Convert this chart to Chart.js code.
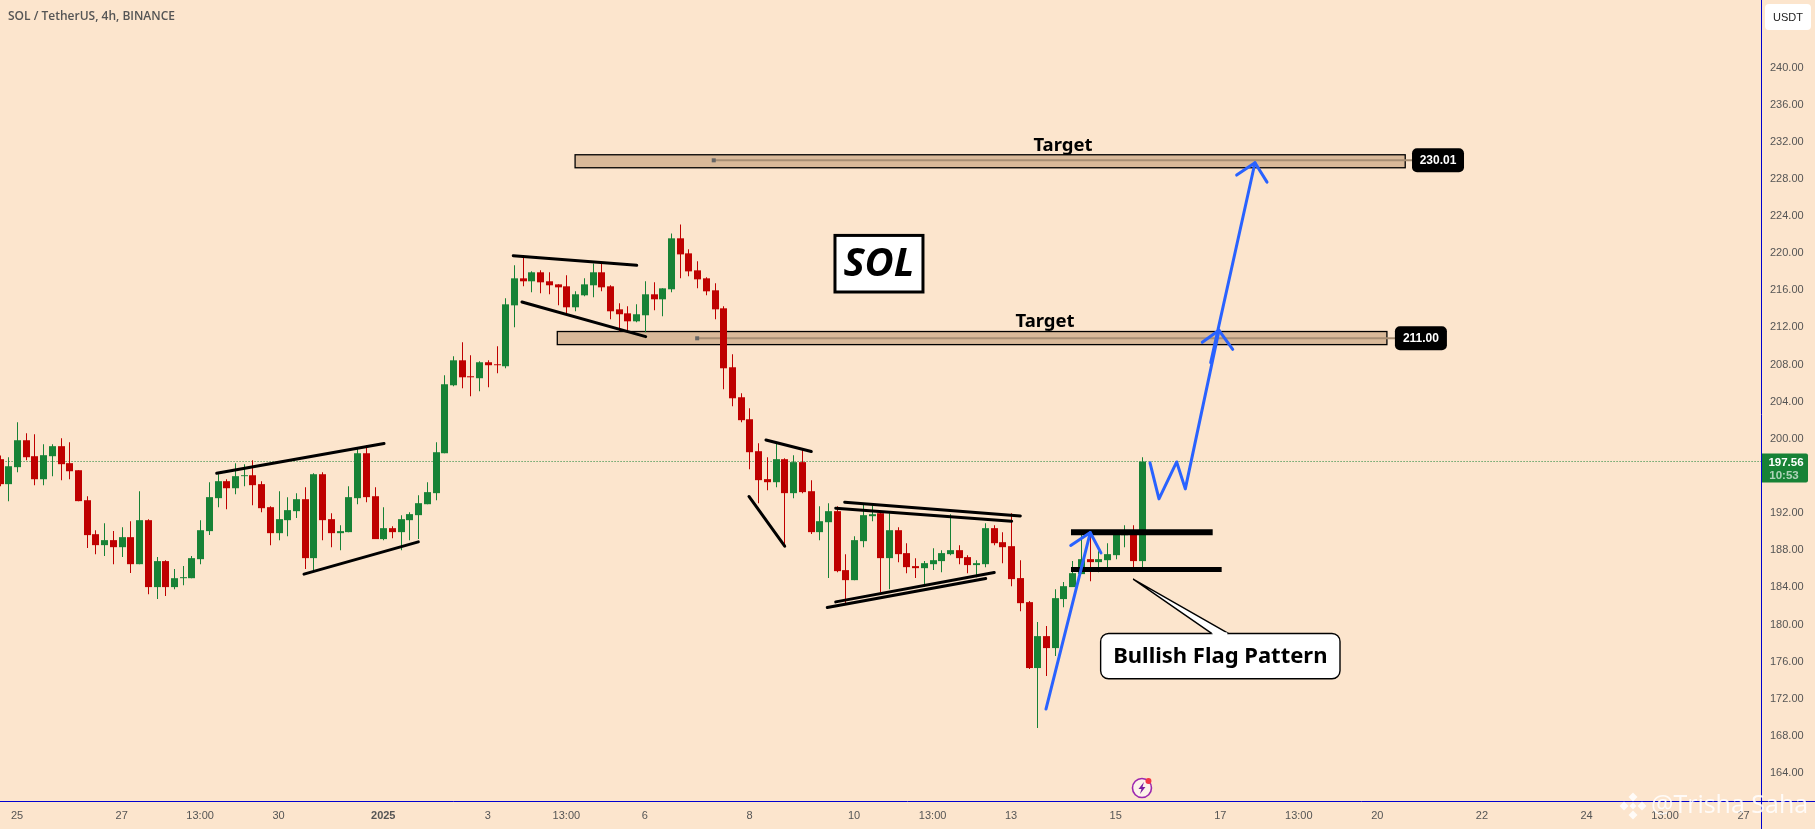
<!DOCTYPE html>
<html lang="en">
<head>
    <meta charset="UTF-8">
    <title>SOL / TetherUS, 4h, BINANCE</title>
    <script src="https://cdn.jsdelivr.net/npm/chart.js"></script>
    <style>
        html, body { margin: 0; padding: 0; background: #fce5cd; overflow: hidden; }
        canvas { display: block; }
    </style>
</head>
<body>
    <canvas id="solChart" width="1815" height="829"></canvas>

    <script>
        // candles
        const opens = [
            197.81, 195.12, 196.95, 199.85, 198.13, 195.65, 198.13, 199.21, 197.38, 196.62,
            193.39, 189.73, 188.55, 189.09, 188.33, 189.41, 186.50, 191.24, 184.03, 186.83,
            184.03, 184.99, 184.99, 187.04, 190.06, 193.61, 195.44, 194.68, 195.98, 196.08,
            195.12, 192.64, 189.84, 191.24, 192.21, 193.50, 187.15, 196.19, 191.35, 189.84,
            189.95, 193.61, 198.45, 193.82, 189.20, 190.38, 189.95, 191.24, 191.78, 192.96,
            194.15, 198.45, 205.77, 208.46, 206.74, 206.53, 208.25, 208.03, 207.82, 214.38,
            217.29, 216.97, 217.94, 216.97, 216.64, 216.43, 214.17, 215.46, 216.54, 217.94,
            216.43, 213.95, 213.52, 212.66, 213.31, 215.57, 215.03, 216.11, 221.60, 219.98,
            218.15, 217.29, 216.00, 214.06, 207.71, 204.48, 202.11, 198.67, 195.66, 195.33,
            197.81, 194.15, 197.49, 194.36, 189.95, 191.02, 192.21, 185.86, 184.78, 188.98,
            191.67, 191.99, 187.15, 190.16, 187.69, 186.29, 186.07, 186.50, 186.83, 187.58,
            188.01, 187.26, 186.40, 186.50, 190.38, 188.87, 188.44, 185.00, 182.41, 175.31,
            178.75, 177.46, 182.74, 184.03, 185.43, 187.04, 186.72, 186.93, 187.47, 189.62,
            189.95, 186.83
        ];
        const highs = [
            198.20, 198.02, 201.79, 200.61, 200.50, 199.42, 199.42, 200.07, 199.64, 196.62,
            193.82, 190.16, 190.92, 190.06, 190.49, 191.13, 194.36, 191.35, 187.26, 186.93,
            185.97, 186.29, 187.37, 191.24, 195.33, 196.19, 195.65, 197.38, 197.27, 197.70,
            195.44, 192.75, 194.36, 193.72, 194.15, 194.79, 196.30, 196.41, 191.99, 190.70,
            194.90, 198.99, 199.31, 194.79, 192.64, 190.59, 191.78, 192.10, 193.93, 195.33,
            199.64, 206.85, 208.89, 210.40, 209.00, 208.36, 208.46, 209.97, 215.14, 218.69,
            219.77, 218.04, 218.15, 217.94, 216.64, 217.61, 215.89, 217.29, 218.90, 219.01,
            216.54, 214.60, 214.28, 214.49, 216.97, 216.86, 216.21, 222.13, 223.10, 220.41,
            219.12, 217.40, 216.75, 214.28, 209.11, 204.91, 203.30, 199.53, 198.02, 199.53,
            197.92, 198.24, 198.99, 195.55, 192.75, 193.07, 192.75, 187.58, 189.52, 192.96,
            192.85, 192.10, 191.99, 190.49, 188.76, 187.15, 186.83, 188.22, 188.01, 191.88,
            188.55, 187.47, 186.93, 190.91, 190.70, 189.95, 191.99, 186.93, 182.52, 180.26,
            179.83, 183.81, 184.57, 186.83, 190.05, 190.05, 187.90, 188.76, 189.73, 190.70,
            190.70, 198.02
        ];
        const lows = [
            194.90, 193.29, 196.41, 197.70, 195.01, 195.01, 195.98, 195.55, 195.65, 193.29,
            188.23, 187.58, 187.37, 186.50, 187.26, 185.54, 186.50, 183.27, 182.74, 183.06,
            183.81, 184.24, 184.99, 186.50, 189.63, 192.64, 192.42, 194.04, 194.90, 192.86,
            192.10, 188.55, 189.09, 189.52, 191.46, 185.97, 185.86, 189.09, 188.33, 188.01,
            189.95, 192.96, 193.18, 189.20, 189.09, 189.30, 188.01, 189.09, 189.20, 192.96,
            193.39, 198.45, 205.67, 205.45, 204.59, 205.13, 205.56, 207.06, 207.60, 212.02,
            216.43, 215.78, 215.68, 215.57, 214.38, 213.52, 213.74, 215.35, 215.25, 215.89,
            212.88, 211.59, 211.48, 212.55, 211.48, 213.85, 213.20, 215.78, 217.29, 217.51,
            216.21, 215.46, 212.88, 205.34, 203.51, 201.79, 196.73, 193.07, 194.47, 194.79,
            188.37, 193.61, 194.15, 189.74, 189.09, 185.00, 185.64, 182.09, 184.78, 188.33,
            191.13, 183.49, 183.81, 186.72, 185.53, 185.00, 184.03, 185.86, 185.64, 187.47,
            186.50, 185.53, 185.10, 186.18, 188.55, 186.61, 184.13, 181.44, 175.20, 168.85,
            174.45, 176.60, 181.87, 184.03, 185.43, 184.67, 185.64, 185.75, 187.04, 188.33,
            185.86, 185.96
        ];
        const closes = [
            195.12, 197.05, 199.85, 198.02, 195.65, 198.24, 199.21, 197.27, 196.51, 193.29,
            189.63, 188.55, 189.09, 188.33, 189.41, 186.50, 191.24, 184.03, 186.83, 184.03,
            184.99, 185.10, 187.15, 190.16, 193.72, 195.44, 194.68, 195.98, 196.08, 195.01,
            192.53, 189.84, 191.35, 192.32, 193.50, 187.15, 196.19, 191.24, 189.84, 190.06,
            193.72, 198.45, 193.72, 189.20, 190.38, 189.95, 191.35, 191.89, 193.07, 194.26,
            198.56, 205.88, 208.46, 206.63, 206.63, 208.25, 207.93, 207.93, 214.49, 217.29,
            216.97, 217.94, 216.86, 216.54, 216.32, 214.17, 215.57, 216.64, 217.94, 216.32,
            213.74, 213.42, 212.66, 213.42, 215.57, 215.03, 216.21, 221.60, 219.87, 218.04,
            217.18, 215.89, 213.95, 207.60, 204.37, 202.01, 198.56, 195.55, 195.33, 197.81,
            194.15, 197.49, 194.26, 189.95, 191.13, 192.21, 185.75, 184.78, 189.09, 191.78,
            191.88, 187.15, 190.16, 187.58, 186.18, 186.07, 186.61, 186.93, 187.69, 188.01,
            187.15, 186.40, 186.61, 190.38, 188.76, 188.33, 184.89, 182.30, 175.31, 178.75,
            177.46, 182.84, 184.13, 185.53, 187.04, 186.72, 187.04, 187.58, 189.73, 189.95,
            186.83, 197.56
        ];

        // axes
        const priceTicks = [164, 168, 172, 176, 180, 184, 188, 192, 196, 200, 204, 208, 212, 216, 220, 224, 228, 232, 236, 240];
        const timeTickSlots = [2, 14, 23, 32, 44, 56, 65, 74, 86, 98, 107, 116, 128, 140, 149, 158, 170, 182, 191, 200];
        const timeTickLabels = ['25', '27', '13:00', '30', '2025', '3', '13:00', '6', '8', '10', '13:00', '13', '15', '17', '13:00', '20', '22', '24', '13:00', '27'];
        const lastPrice = 197.56;

        // drawings, in [candle slot, price]
        const blackLines = [
            [[24.90, 196.30], [44.09, 199.49]],
            [[34.91, 185.43], [48.02, 188.90]],
            [[58.91, 219.73], [73.07, 218.69]],
            [[59.91, 214.74], [74.10, 211.01]],
            [[87.89, 199.88], [93.09, 198.63]],
            [[85.94, 193.79], [90.04, 188.44]],
            [[96.92, 193.18], [117.06, 191.70]],
            [[95.89, 192.53], [116.07, 191.13]],
            [[95.89, 182.44], [114.07, 185.61]],
            [[94.92, 181.84], [113.09, 184.96]]
        ];
        const flagLines = [
            [[122.87, 189.95], [139.12, 189.95]],
            [[122.87, 185.93], [140.15, 185.93]]
        ];
        const blueLines = [
            [[120.00, 170.89], [125.08, 189.91]],
            [[122.84, 188.52], [125.08, 189.91], [126.31, 187.72]],
            [[131.93, 197.41], [132.96, 193.53], [134.99, 197.51], [135.98, 194.61], [139.84, 211.69]],
            [[137.93, 210.40], [139.84, 211.69], [141.42, 209.64]],
            [[138.89, 208.21], [143.97, 229.74]],
            [[141.87, 228.41], [143.97, 229.74], [145.35, 227.65]]
        ];

        // target zones
        const zoneSlots = [[63.96, 159.10], [66.00, 161.20]];
        const zonePrices = [[211.56, 210.15], [230.60, 229.20]];
        const zoneMids = [210.83, 230.00];
        const zoneAnchors = [80.00, 81.90];
        const zoneLabelSlots = [163.00, 164.96];
        const zoneLabels = ['211.00', '230.01'];
        const targetTextAt = [[119.89, 212.01], [121.95, 230.96]];

        const solBox = [95.69, 106.01, 222.02, 215.71];
        const calloutBox = [126.27, 153.72, 179.04, 174.16];
        const calloutTip = [130.00, 184.89];
        const calloutBase = [139.00, 140.91];
        const eventIconAt = [131.01, 162.39];

        const slots = opens.map((_, i) => i);
        const UP = '#178236';
        const DOWN = '#bf0000';
        const candleColors = opens.map((o, i) => closes[i] >= o ? UP : DOWN);

        function lineSet(points, color, width, order, dash) {
            return {
                type: 'line',
                data: points.map(p => ({ x: p[0], y: p[1] })),
                borderColor: color,
                borderWidth: width,
                borderDash: dash || [],
                borderCapStyle: dash ? 'butt' : 'round',
                borderJoinStyle: 'round',
                pointRadius: 0,
                tension: 0,
                fill: false,
                order: order
            };
        }

        const datasets = [
            lineSet([[0, lastPrice], [202, lastPrice]], UP, 1, 5, [1, 2]),
            {
                type: 'bar',
                data: slots.map(i => ({ x: i, y: [lows[i], highs[i]] })),
                backgroundColor: candleColors,
                barThickness: 1,
                grouped: false,
                inflateAmount: 0,
                order: 4
            },
            {
                type: 'bar',
                data: slots.map(i => ({ x: i, y: [opens[i], closes[i]] })),
                backgroundColor: candleColors,
                barThickness: 7,
                grouped: false,
                inflateAmount: 0,
                order: 3
            }
        ];
        blackLines.forEach(l => datasets.push(lineSet(l, '#000000', 3, 2)));
        flagLines.forEach((l, i) => datasets.push(lineSet(l, '#000000', i === 0 ? 6 : 5, 2, [])));
        blueLines.forEach(l => datasets.push(lineSet(l, '#2962ff', 3, 1)));

        function roundedBox(ctx, x, y, w, h, r) {
            ctx.beginPath();
            ctx.roundRect(x, y, w, h, r);
        }

        function diamond(ctx, cx, cy, r) {
            ctx.beginPath();
            ctx.moveTo(cx, cy - r);
            ctx.lineTo(cx + r, cy);
            ctx.lineTo(cx, cy + r);
            ctx.lineTo(cx - r, cy);
            ctx.closePath();
            ctx.fill();
        }

        // snap candles to whole pixels like the original
        const snapCandles = {
            id: 'snapCandles',
            afterDatasetsUpdate(chart) {
                [1, 2].forEach(n => {
                    chart.getDatasetMeta(n).data.forEach(el => { el.x = Math.round(el.x) + 0.5; });
                });
            }
        };

        // target zones sit behind the candles
        const zones = {
            id: 'zones',
            beforeDatasetsDraw(chart) {
                const { ctx, scales: { x, y } } = chart;
                ctx.save();
                zoneSlots.forEach((s, i) => {
                    const left = x.getPixelForValue(s[0]);
                    const right = x.getPixelForValue(s[1]);
                    const top = y.getPixelForValue(zonePrices[i][0]);
                    const bottom = y.getPixelForValue(zonePrices[i][1]);
                    ctx.fillStyle = '#d9b999';
                    ctx.fillRect(left, top, right - left, bottom - top);
                    ctx.strokeStyle = '#000';
                    ctx.lineWidth = 1.3;
                    ctx.strokeRect(left, top, right - left, bottom - top);
                    const mid = y.getPixelForValue(zoneMids[i]);
                    const anchor = x.getPixelForValue(zoneAnchors[i]);
                    ctx.strokeStyle = '#a68e74';
                    ctx.lineWidth = 2;
                    ctx.beginPath();
                    ctx.moveTo(anchor, mid);
                    ctx.lineTo(x.getPixelForValue(zoneLabelSlots[i]), mid);
                    ctx.stroke();
                    ctx.fillStyle = '#666';
                    ctx.fillRect(anchor - 2, mid - 2, 4, 4);
                });
                ctx.restore();
            }
        };

        const overlay = {
            id: 'overlay',
            afterDraw(chart) {
                const { ctx, chartArea, scales: { x, y } } = chart;
                const W = chart.width;
                const H = chart.height;
                ctx.save();

                // frame lines
                ctx.strokeStyle = '#0000d0';
                ctx.lineWidth = 1;
                ctx.beginPath();
                ctx.moveTo(chartArea.right + 0.5, 0);
                ctx.lineTo(chartArea.right + 0.5, H);
                ctx.moveTo(0, chartArea.bottom + 0.5);
                ctx.lineTo(W, chartArea.bottom + 0.5);
                ctx.stroke();

                // header
                ctx.textBaseline = 'middle';
                ctx.textAlign = 'left';
                ctx.fillStyle = '#555';
                ctx.font = '600 12px "Open Sans"';
                ctx.fillText('SOL / TetherUS, 4h, BINANCE', 8, 16.5);

                // USDT button
                ctx.fillStyle = '#ffffff';
                roundedBox(ctx, 1765, 4, 46, 26, 4);
                ctx.fill();
                ctx.fillStyle = '#222';
                ctx.font = '11px "Liberation Sans"';
                ctx.textAlign = 'center';
                ctx.fillText('USDT', 1788, 17.5);

                // last price tag
                const lastY = y.getPixelForValue(lastPrice);
                ctx.fillStyle = UP;
                roundedBox(ctx, chartArea.right + 1, lastY - 8, 46, 29, [0, 2, 2, 0]);
                ctx.fill();
                ctx.fillStyle = '#ffffff';
                ctx.font = 'bold 11.5px "Liberation Sans"';
                ctx.fillText('197.56', 1786, lastY + 1);
                ctx.fillStyle = 'rgba(255,255,255,0.65)';
                ctx.font = 'bold 11.5px "Liberation Sans"';
                ctx.fillText('10:53', 1784, lastY + 14);

                // zone price labels and target text
                zoneLabels.forEach((label, i) => {
                    const cx = x.getPixelForValue(zoneLabelSlots[i]);
                    const cy = y.getPixelForValue(zoneMids[i]);
                    ctx.fillStyle = '#000';
                    roundedBox(ctx, cx - 26, cy - 12, 52, 24, 5);
                    ctx.fill();
                    ctx.fillStyle = '#fff';
                    ctx.font = 'bold 12px "Liberation Sans"';
                    ctx.textAlign = 'center';
                    ctx.textBaseline = 'middle';
                    ctx.fillText(label, cx, cy + 0.5);

                    ctx.fillStyle = '#000';
                    ctx.font = 'bold 18.5px "Noto Sans"';
                    ctx.textBaseline = 'alphabetic';
                    ctx.fillText('Target', x.getPixelForValue(targetTextAt[i][0]), y.getPixelForValue(targetTextAt[i][1]));
                });

                // SOL box
                const sx = x.getPixelForValue(solBox[0]);
                const sr = x.getPixelForValue(solBox[1]);
                const st = y.getPixelForValue(solBox[2]);
                const sb = y.getPixelForValue(solBox[3]);
                ctx.fillStyle = '#fff';
                ctx.fillRect(sx, st, sr - sx, sb - st);
                ctx.strokeStyle = '#000';
                ctx.lineWidth = 3;
                ctx.strokeRect(sx + 1, st + 1, sr - sx - 2, sb - st - 2);
                ctx.fillStyle = '#000';
                ctx.font = 'italic bold 40px "Open Sans"';
                ctx.textAlign = 'center';
                ctx.textBaseline = 'middle';
                ctx.fillText('SOL', (sx + sr) / 2, (st + sb) / 2 + 1);

                // callout
                const cl = x.getPixelForValue(calloutBox[0]);
                const cr = x.getPixelForValue(calloutBox[1]);
                const ct = y.getPixelForValue(calloutBox[2]);
                const cb = y.getPixelForValue(calloutBox[3]);
                const tipX = x.getPixelForValue(calloutTip[0]);
                const tipY = y.getPixelForValue(calloutTip[1]);
                ctx.lineWidth = 1.4;
                ctx.fillStyle = '#fff';
                ctx.strokeStyle = '#000';
                roundedBox(ctx, cl, ct, cr - cl, cb - ct, 8);
                ctx.fill();
                ctx.stroke();
                ctx.beginPath();
                ctx.moveTo(x.getPixelForValue(calloutBase[0]), ct);
                ctx.lineTo(tipX, tipY);
                ctx.lineTo(x.getPixelForValue(calloutBase[1]), ct);
                ctx.fill();
                ctx.stroke();
                ctx.fillRect(x.getPixelForValue(calloutBase[0]) + 1, ct - 1, x.getPixelForValue(calloutBase[1]) - x.getPixelForValue(calloutBase[0]) - 2, 3);
                ctx.fillStyle = '#000';
                ctx.font = 'bold 22px "Noto Sans"';
                ctx.fillText('Bullish Flag Pattern', (cl + cr) / 2, (ct + cb) / 2 + 1);

                // event marker
                const ix = x.getPixelForValue(eventIconAt[0]);
                const iy = y.getPixelForValue(eventIconAt[1]);
                ctx.strokeStyle = '#9c27b0';
                ctx.lineWidth = 1.6;
                ctx.fillStyle = '#fdf3ea';
                ctx.beginPath();
                ctx.arc(ix, iy, 9.5, 0, Math.PI * 2);
                ctx.fill();
                ctx.stroke();
                ctx.fillStyle = '#7b1fa2';
                ctx.beginPath();
                ctx.moveTo(ix + 2, iy - 6);
                ctx.lineTo(ix - 3.5, iy + 1);
                ctx.lineTo(ix - 0.5, iy + 1);
                ctx.lineTo(ix - 2, iy + 6);
                ctx.lineTo(ix + 3.5, iy - 1);
                ctx.lineTo(ix + 0.5, iy - 1);
                ctx.closePath();
                ctx.fill();
                ctx.fillStyle = '#f23645';
                ctx.beginPath();
                ctx.arc(ix + 6.5, iy - 7, 3, 0, Math.PI * 2);
                ctx.fill();

                // watermark
                ctx.fillStyle = 'rgba(255,255,255,0.85)';
                diamond(ctx, 1633, 797, 4.5);
                diamond(ctx, 1624, 806, 4.5);
                diamond(ctx, 1642, 806, 4.5);
                diamond(ctx, 1633, 815, 4.5);
                diamond(ctx, 1633, 806, 3.5);
                ctx.font = '25px "Open Sans"';
                ctx.textAlign = 'left';
                ctx.textBaseline = 'middle';
                ctx.fillText('@Trisha Saha', 1651, 806);

                ctx.restore();
            }
        };

        new Chart(document.getElementById('solChart').getContext('2d'), {
            data: { datasets: datasets },
            plugins: [snapCandles, zones, overlay],
            options: {
                responsive: false,
                animation: false,
                events: [],
                layout: { padding: 0 },
                plugins: { legend: { display: false }, tooltip: { enabled: false } },
                scales: {
                    x: {
                        type: 'linear',
                        offset: false,
                        min: 0.05,
                        max: 202,
                        position: 'bottom',
                        grid: { display: false },
                        border: { display: false },
                        afterFit(scale) {
                            scale.height = 28;
                            scale.paddingLeft = 0;
                            scale.paddingRight = 0;
                        },
                        afterBuildTicks(scale) { scale.ticks = timeTickSlots.map(v => ({ value: v })); },
                        ticks: {
                            autoSkip: false,
                            maxRotation: 0,
                            padding: 0,
                            color: '#555',
                            font: ctx => ({
                                family: '"Liberation Sans"',
                                size: 11,
                                weight: ctx.tick && ctx.tick.value === 44 ? 'bold' : 'normal'
                            }),
                            callback: v => timeTickLabels[timeTickSlots.indexOf(v)]
                        }
                    },
                    y: {
                        type: 'linear',
                        min: 160.99,
                        max: 247.27,
                        position: 'right',
                        grid: { display: false },
                        border: { display: false },
                        afterFit(scale) {
                            scale.width = 54;
                            scale.paddingTop = 0;
                            scale.paddingBottom = 0;
                        },
                        afterBuildTicks(scale) { scale.ticks = priceTicks.map(v => ({ value: v })); },
                        ticks: {
                            autoSkip: false,
                            padding: 1,
                            color: '#555',
                            font: { family: '"Liberation Sans"', size: 11 },
                            callback: v => v.toFixed(2)
                        }
                    }
                }
            }
        });
    </script>
</body>
</html>
